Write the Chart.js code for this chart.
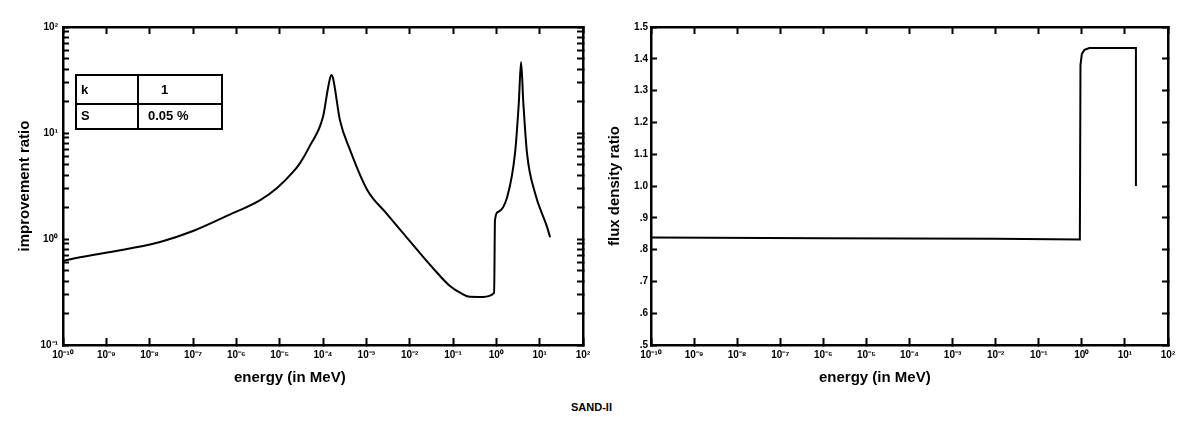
<!DOCTYPE html>
<html>
<head>
<meta charset="utf-8">
<script src="https://cdn.jsdelivr.net/npm/chart.js@4.4.1/dist/chart.umd.min.js"></script>
<style>
  body { margin: 0; background: #fff; width: 1183px; height: 425px; position: relative; overflow: hidden;
         font-family: "Liberation Sans", Arial, sans-serif; color: #000; }
  #improveChart { position: absolute; left: 0; top: 0; }
  #fluxChart { position: absolute; left: 590px; top: 0; }
  .legend { position: absolute; left: 75px; top: 74px; width: 148px; height: 56px; border: 2px solid #000;
            box-sizing: border-box; font-weight: bold; font-size: 13px; }
  .legend .hline { position: absolute; left: 0; right: 0; top: 27px; border-top: 2px solid #000; }
  .legend .vline { position: absolute; top: 0; bottom: 0; left: 60px; border-left: 2px solid #000; }
  .legend span { position: absolute; line-height: 14px; }
  .xtitle { position: absolute; top: 369px; font-weight: bold; font-size: 15px; line-height: 16px; white-space: nowrap; }
  .caption { position: absolute; left: 0; width: 1183px; top: 401px; text-align: center; font-weight: bold; font-size: 11px; }
</style>
</head>
<body>
<canvas id="improveChart" width="590" height="390"></canvas>
<canvas id="fluxChart" width="593" height="390"></canvas>
<div class="legend">
  <div class="hline"></div>
  <div class="vline"></div>
  <span style="left:4px; top:7px;">k</span>
  <span style="left:84px; top:7px;">1</span>
  <span style="left:4px; top:33px;">S</span>
  <span style="left:71px; top:33px;">0.05 %</span>
</div>
<div class="xtitle" style="left:234px;">energy (in MeV)</div>
<div class="xtitle" style="left:819px;">energy (in MeV)</div>
<div class="caption">SAND-II</div>
<script>
// Axis ticks
const energyTicks = [1e-10, 1e-9, 1e-8, 1e-7, 1e-6, 1e-5, 1e-4, 1e-3, 1e-2, 1e-1, 1, 10, 100];
const energyLabels = ['10⁻¹⁰', '10⁻⁹', '10⁻⁸', '10⁻⁷', '10⁻⁶', '10⁻⁵', '10⁻⁴', '10⁻³', '10⁻²', '10⁻¹', '10⁰', '10¹', '10²'];
const ratioDecades = [0.1, 1, 10, 100];
const ratioLabels = ['10⁻¹', '10⁰', '10¹', '10²'];
const fluxTicks = [0.5, 0.6, 0.7, 0.8, 0.9, 1.0, 1.1, 1.2, 1.3, 1.4, 1.5];
const fluxLabels = ['.5', '.6', '.7', '.8', '.9', '1.0', '1.1', '1.2', '1.3', '1.4', '1.5'];

// Improvement ratio (left panel)
const improveEnergy = [1.0e-10, 1.23e-10, 4.9e-10, 3.0e-9, 1.74e-8, 1.0e-7, 6.0e-7, 3.55e-6, 8.7e-6, 2.04e-5,
  2.95e-5, 5.0e-5, 1.0e-4, 1.32e-4, 1.55e-4, 1.7e-4, 2.45e-4, 4.2e-4, 1.05e-3, 3.0e-3,
  1.02e-2, 3.47e-2, 8.5e-2, 0.16, 0.245, 0.49, 0.89, 0.93, 1.1, 1.78,
  2.7, 3.3, 3.72, 4.2, 5.1, 7.8, 14.8, 17.4];
const improveRatio = [0.62, 0.634, 0.706, 0.805, 0.938, 1.19, 1.65, 2.33, 3.03, 4.29,
  5.2, 7.6, 14.2, 27.2, 35.3, 33.0, 13.3, 6.92, 2.90, 1.72,
  0.95, 0.53, 0.36, 0.305, 0.285, 0.284, 0.31, 1.51, 1.80, 2.49,
  6.47, 19.2, 46.8, 19.2, 6.47, 2.72, 1.30, 1.04];

// Flux density ratio (right panel)
const fluxEnergy = [1e-10, 1e-6, 1e-2, 0.9, 0.93, 1.0, 1.15, 1.5, 18, 18];
const fluxRatio = [0.838, 0.836, 0.834, 0.832, 1.38, 1.415, 1.428, 1.434, 1.434, 1.0];

Chart.defaults.font.family = '"Liberation Sans", Arial, sans-serif';
Chart.defaults.color = '#000';

const tickFont = { size: 10, weight: 'bold' };
const titleFont = { size: 15, weight: 'bold' };

function pairs(xs, ys) {
  return xs.map((x, i) => ({ x: x, y: ys[i] }));
}

// tick marks pointing into the plot
function gridOpts(len) {
  return { drawOnChartArea: false, drawTicks: true, tickLength: -len, tickWidth: 2, tickColor: '#000' };
}
const borderOpts = { display: true, color: '#000', width: 2.5 };

function energyAxis(position, show) {
  return {
    type: 'logarithmic', position: position, min: 1e-10, max: 100,
    afterBuildTicks: s => { s.ticks = energyTicks.map(v => ({ value: v })); },
    afterFit: s => { s.height = show ? 45 : 0; s.paddingLeft = 0; s.paddingRight = 0; },
    grid: gridOpts(7),
    border: borderOpts,
    ticks: { display: show, autoSkip: false, maxRotation: 0, padding: 11, font: tickFont,
             callback: (v, i) => energyLabels[i] },
    title: { display: false }
  };
}

function ratioAxis(position, show) {
  return {
    type: 'logarithmic', position: position, min: 0.1, max: 100,
    afterBuildTicks: s => {
      const t = [];
      ratioDecades.forEach((d, i) => {
        if (i === ratioDecades.length - 1) { t.push({ value: d }); return; }
        for (let m = 1; m <= 9; m++) t.push({ value: m * d });
      });
      s.ticks = t;
    },
    afterFit: s => { s.width = show ? 63 : 0; s.paddingTop = 0; s.paddingBottom = 0; },
    grid: gridOpts(6),
    border: borderOpts,
    ticks: { display: show, autoSkip: false, padding: 11, font: tickFont,
             callback: v => {
               const k = ratioDecades.findIndex(d => Math.abs(d - v) < d * 1e-6);
               return k >= 0 ? ratioLabels[k] : '';
             } },
    title: { display: show, text: 'improvement ratio', font: titleFont, padding: { top: 16, bottom: 0 } }
  };
}

function fluxAxis(position, show) {
  return {
    type: 'linear', position: position, min: 0.5, max: 1.5,
    afterBuildTicks: s => { s.ticks = fluxTicks.map(v => ({ value: v })); },
    afterFit: s => { s.width = show ? 61 : 0; s.paddingTop = 0; s.paddingBottom = 0; },
    grid: gridOpts(6),
    border: borderOpts,
    ticks: { display: show, autoSkip: false, padding: 9, font: tickFont,
             callback: (v, i) => fluxLabels[i] },
    title: { display: show, text: 'flux density ratio', font: titleFont, padding: { top: 16, bottom: 0 } }
  };
}

const lineStyle = { borderColor: '#000', borderWidth: 2, pointRadius: 0, fill: false };

new Chart(document.getElementById('improveChart'), {
  type: 'line',
  data: {
    datasets: [Object.assign({
      label: 'improvement ratio',
      data: pairs(improveEnergy, improveRatio),
      cubicInterpolationMode: 'monotone'
    }, lineStyle)]
  },
  options: {
    responsive: false,
    animation: false,
    layout: { padding: { left: 0, right: 7, top: 27, bottom: 0 } },
    plugins: { legend: { display: false }, tooltip: { enabled: false } },
    scales: {
      x: energyAxis('bottom', true),
      x2: energyAxis('top', false),
      y: ratioAxis('left', true),
      y2: ratioAxis('right', false)
    }
  }
});

new Chart(document.getElementById('fluxChart'), {
  type: 'line',
  data: {
    datasets: [Object.assign({
      label: 'flux density ratio',
      data: pairs(fluxEnergy, fluxRatio),
      tension: 0
    }, lineStyle)]
  },
  options: {
    responsive: false,
    animation: false,
    layout: { padding: { left: 0, right: 15, top: 27, bottom: 0 } },
    plugins: { legend: { display: false }, tooltip: { enabled: false } },
    scales: {
      x: energyAxis('bottom', true),
      x2: energyAxis('top', false),
      y: fluxAxis('left', true),
      y2: fluxAxis('right', false)
    }
  }
});
</script>
</body>
</html>
